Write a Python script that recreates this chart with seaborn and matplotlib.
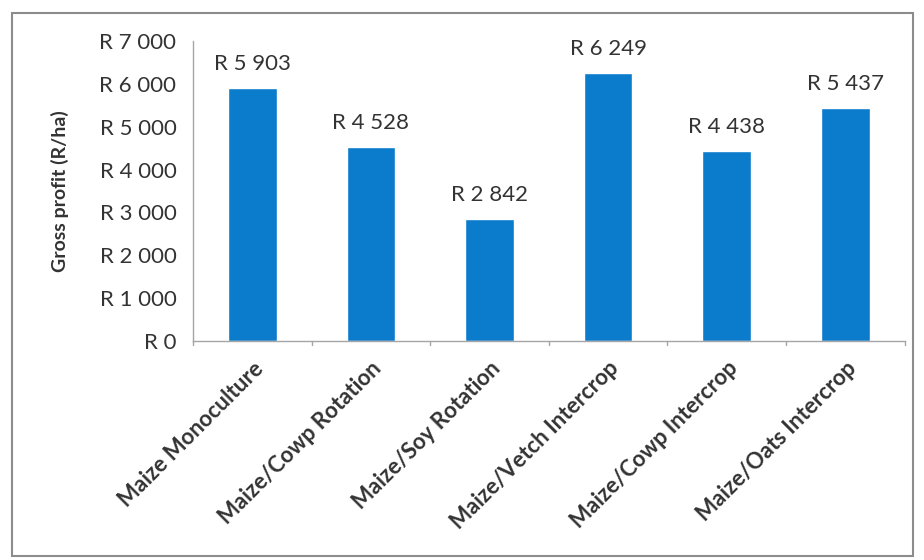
import matplotlib
matplotlib.use('Agg')
import matplotlib.pyplot as plt
import matplotlib.transforms as mtransforms
import seaborn as sns
import pandas as pd
from matplotlib.patches import Rectangle

# Data
systems = ['Maize Monoculture', 'Maize/Cowp Rotation', 'Maize/Soy Rotation',
           'Maize/Vetch Intercrop', 'Maize/Cowp Intercrop', 'Maize/Oats Intercrop']
gross_profit = [5903, 4528, 2842, 6249, 4438, 5437]
y_ticks = [0, 1000, 2000, 3000, 4000, 5000, 6000, 7000]

df = pd.DataFrame({'system': systems, 'profit': gross_profit})


def rand(v):
    # South African style: R 5 903
    return 'R ' + f'{v:,.0f}'.replace(',', ' ')


sns.set_style('white')
plt.rcParams['font.family'] = ['Lato', 'DejaVu Sans']
text_col = '#333333'
axis_col = '#a6a6a6'

fig = plt.figure(figsize=(9.24, 5.6), dpi=100)
ax = fig.add_axes([0.209, 0.391, 0.77, 0.536])

sns.barplot(data=df, x='system', y='profit', color='#0b7bcc', width=0.41,
            saturation=1, ax=ax)

ax.set_ylim(0, 7000)
ax.set_xlim(-0.5, len(systems) - 0.5)
ax.set_yticks(y_ticks)
ax.set_yticklabels([rand(v) for v in y_ticks], fontsize=16, color=text_col)
ax.set_xticks(range(len(systems)))
ax.set_xticklabels(systems, rotation=45, ha='right', rotation_mode='anchor',
                   fontsize=16, fontweight='bold', color=text_col)
shift = mtransforms.ScaledTranslation(0.10, 0, fig.dpi_scale_trans)
for lab in ax.get_xticklabels():
    lab.set_transform(lab.get_transform() + shift)
ax.tick_params(axis='x', length=0, pad=12)
ax.tick_params(axis='y', length=5, direction='out', color=axis_col, pad=7)

# tick marks between categories like excel
for b in range(len(systems) + 1):
    ax.plot([b - 0.5, b - 0.5], [0, -90], color=axis_col, lw=1, clip_on=False)

ax.set_xlabel('')
ax.set_ylabel('Gross profit (R/ha)', fontsize=14, fontweight='bold',
              color=text_col, labelpad=22)

for s in ['top', 'right']:
    ax.spines[s].set_visible(False)
for s in ['left', 'bottom']:
    ax.spines[s].set_color(axis_col)
    ax.spines[s].set_linewidth(1)

# value labels
for i, v in enumerate(gross_profit):
    ax.text(i, v + 330, rand(v), ha='center', va='bottom', fontsize=16,
            color=text_col)

# outer chart border
fig.patches.append(Rectangle((0.013, 0.008), 0.975, 0.968, transform=fig.transFigure,
                             fill=False, edgecolor='#8c8c8c', lw=1.5))

plt.savefig('out.png', dpi=100)
